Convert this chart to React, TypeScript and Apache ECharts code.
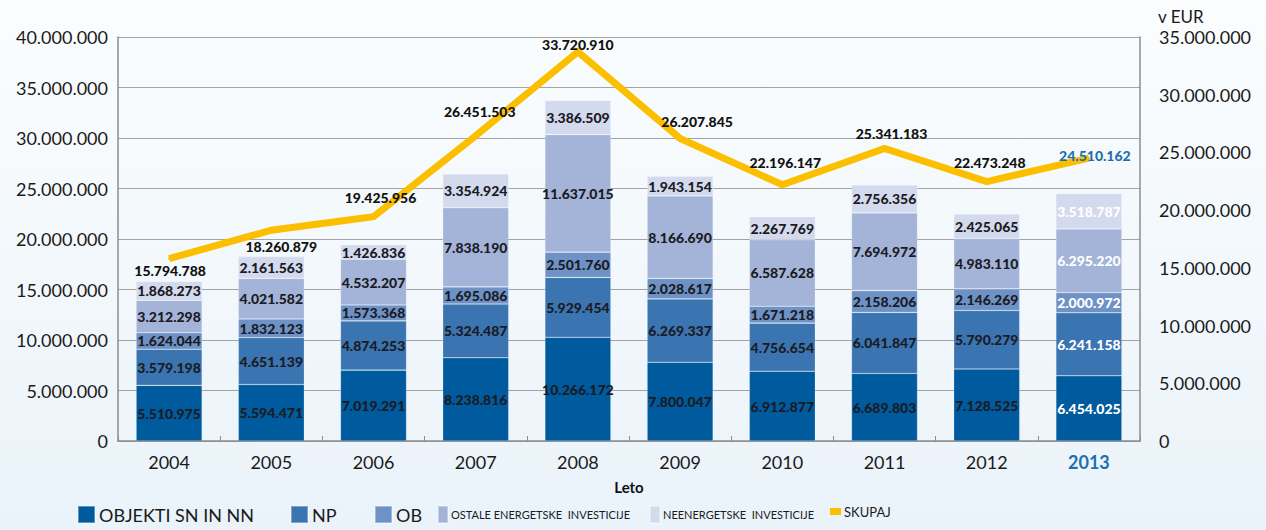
import React, { useEffect, useRef } from "react";
import * as echarts from "echarts";

const years = ["2004", "2005", "2006", "2007", "2008", "2009", "2010", "2011", "2012", "2013"];
const objekti = [5510975, 5594471, 7019291, 8238816, 10266172, 7800047, 6912877, 6689803, 7128525, 6454025];
const np = [3579198, 4651139, 4874253, 5324487, 5929454, 6269337, 4756654, 6041847, 5790279, 6241158];
const ob = [1624044, 1832123, 1573368, 1695086, 2501760, 2028617, 1671218, 2158206, 2146269, 2000972];
const ostale = [3212298, 4021582, 4532207, 7838190, 11637015, 8166690, 6587628, 7694972, 4983110, 6295220];
const neenergetske = [1868273, 2161563, 1426836, 3354924, 3386509, 1943154, 2267769, 2756356, 2425065, 3518787];
const skupaj = [15794788, 18260879, 19425956, 26451503, 33720910, 26207845, 22196147, 25341183, 22473248, 24510162];

const seriesNames = [
  "OBJEKTI SN IN NN",
  "NP",
  "OB",
  "OSTALE ENERGETSKE  INVESTICIJE",
  "NEENERGETSKE  INVESTICIJE",
  "SKUPAJ",
];

const colors = ["#005a9e", "#3a74b1", "#6e92c6", "#a4b4d8", "#d4daee", "#fbbf00"];
// label offsets for SKUPAJ line labels (dx, dy) in pixels
const lineLabelOffsets = [
  [1, 12], [10, 16], [7, -19], [4, -24], [0, -7], [17, -17], [3, -22], [7, -15], [3, -19], [6, -3],
];

const fmt = (n: number) => String(Math.round(n)).replace(/\B(?=(\d{3})+(?!\d))/g, ".");
const FONT = "Lato, 'Open Sans', sans-serif";
const HIGHLIGHT = "#1f6fb0";

export default function App() {
  const ref = useRef<HTMLDivElement>(null);
  useEffect(() => {
    if (!ref.current) return;
    const chart = echarts.init(ref.current, null, { renderer: "svg" });
    const stacks = [objekti, np, ob, ostale, neenergetske];
    const barSeries = stacks.map((arr, si) => ({
      name: seriesNames[si],
      type: "bar",
      stack: "total",
      yAxisIndex: 0,
      barWidth: 66,
      itemStyle: { color: colors[si], borderColor: "rgba(255,255,255,0.35)", borderWidth: 0.6 },
      label: {
        show: true,
        position: "inside",
        fontFamily: FONT,
        fontWeight: 900,
        fontSize: 14,
        color: "#1b1b24",
        formatter: (p: any) => fmt(p.value),
      },
      data: arr.map((v, i) =>
        i === years.length - 1 ? { value: v, label: { color: "#ffffff" } } : v
      ),
    }));
    const lineSeries = {
      name: seriesNames[5],
      type: "line",
      yAxisIndex: 1,
      symbol: "circle",
      showSymbol: true,
      symbolSize: 2,
      lineStyle: { color: colors[5], width: 7, cap: "butt", join: "miter" },
      itemStyle: { color: colors[5] },
      label: {
        show: true,
        position: "inside",
        fontFamily: FONT,
        fontWeight: 900,
        fontSize: 14,
        color: "#111111",
        formatter: (p: any) => fmt(p.value),
      },
      data: skupaj.map((v, i) => ({
        value: v,
        label: {
          offset: lineLabelOffsets[i],
          color: i === years.length - 1 ? HIGHLIGHT : "#111111",
        },
      })),
      z: 5,
    };
    const legendLefts = [77, 290, 374, 437, 649, 830];
    const legendFontSizes = [18, 18, 18, 11, 11, 13];
    const legendIconW = [17, 17, 17, 10, 10, 11];
    const legendIconH = [17, 17, 17, 17, 17, 7];
    const legends = seriesNames.map((n, i) => ({
      data: [n],
      left: legendLefts[i],
      top: 505,
      padding: 0,
      itemWidth: legendIconW[i],
      itemHeight: legendIconH[i],
      itemGap: 0,
      icon: "rect",
      selectedMode: false,
      textStyle: {
        fontFamily: FONT,
        fontSize: legendFontSizes[i],
        color: "#1a1a1a",
        padding: [0, 0, 0, i >= 3 ? -2 : -1],
      },
    }));
    chart.setOption({
      animation: false,
      backgroundColor: new echarts.graphic.LinearGradient(0, 0, 0, 1, [
        { offset: 0, color: "#fbfdfe" },
        { offset: 1, color: "#eaf3fa" },
      ]),
      grid: { left: 118, right: 126, top: 37, bottom: 89, containLabel: false },
      legend: legends,
      xAxis: {
        type: "category",
        data: years,
        name: "Leto",
        nameLocation: "middle",
        nameGap: 38,
        nameTextStyle: { fontFamily: FONT, fontWeight: "bold", fontSize: 15, color: "#111", verticalAlign: "top" },
        axisLine: { show: true, lineStyle: { color: "#8c8c8c", width: 1.5 } },
        axisTick: { show: true, inside: true, length: 5, lineStyle: { color: "#8c8c8c" } },
        axisLabel: {
          margin: 12,
          fontFamily: FONT,
          fontSize: 18,
          color: "#1a1a1a",
          formatter: (v: string, i: number) => (i === years.length - 1 ? `{hl|${v}}` : v),
          rich: { hl: { fontFamily: FONT, fontSize: 18, fontWeight: "bold", color: HIGHLIGHT } },
        },
      },
      yAxis: [
        {
          type: "value",
          min: 0,
          max: 40000000,
          interval: 5000000,
          axisLine: { show: true, lineStyle: { color: "#8c8c8c", width: 1.5 } },
          axisTick: { show: false },
          splitLine: { show: true, lineStyle: { color: "#a3a3a3", width: 1 } },
          axisLabel: { margin: 10, fontFamily: FONT, fontSize: 18, color: "#1a1a1a", formatter: (v: number) => fmt(v) },
        },
        {
          type: "value",
          min: 0,
          max: 35000000,
          interval: 5000000,
          position: "right",
          name: "v EUR",
          nameLocation: "end",
          nameGap: 12,
          nameTextStyle: { fontFamily: FONT, fontSize: 17, color: "#1a1a1a", align: "left", padding: [0, 0, 0, 18] },
          axisLine: { show: true, lineStyle: { color: "#8c8c8c", width: 1.5 } },
          axisTick: { show: false },
          splitLine: { show: false },
          axisLabel: { margin: 19, fontFamily: FONT, fontSize: 18, color: "#1a1a1a", formatter: (v: number) => fmt(v) },
        },
      ],
      series: [...barSeries, lineSeries],
    });
    return () => chart.dispose();
  }, []);
  return (
    <div
      ref={ref}
      style={{ position: "fixed", left: 0, top: 0, width: 1266, height: 530 }}
    />
  );
}
